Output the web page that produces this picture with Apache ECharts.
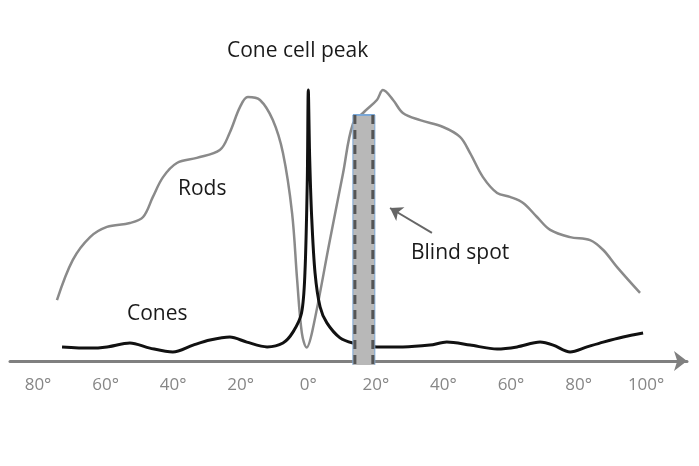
<!DOCTYPE html>
<html>
<head>
<meta charset="utf-8">
<script src="https://cdn.jsdelivr.net/npm/echarts@6/dist/echarts.min.js"></script>
<style>
html,body{margin:0;padding:0;background:#fff;}
#chart{width:699px;height:466px;}
</style>
</head>
<body>
<div id="chart"></div>
<script>
// Eccentricity (degrees, negative = left side) and relative density
const rodsX = [-74.4,-69.7,-64.6,-59.6,-52.8,-48.9,-46.0,-43.0,-38.9,-33.0,-26.2,-23.3,-20.2,-17.9,-14.3,-10.5,-7.5,-4.8,-3.3,-1.9,-0.5,1.2,6.4,10.3,13.2,16.5,20.3,22.1,25.1,28.0,33.1,39.9,44.9,47.9,51.7,55.9,59.7,63.6,67.7,71.6,77.5,83.4,87.3,91.4,98.2];
const rodsY = [20.3,33.7,41.3,44.7,46.0,48.0,54.7,61.3,66.0,67.7,70.3,76.0,84.7,88.0,87.0,80.3,69.3,49.3,27.0,9.3,4.5,10.0,40.3,62.7,79.0,83.0,87.0,90.3,87.0,82.7,80.3,78.0,74.7,69.3,61.3,56.0,54.7,52.7,48.0,43.7,41.3,40.3,37.0,31.3,22.7];
const conesX = [-72.9,-64.6,-59.6,-52.8,-46.9,-40.1,-34.1,-29.1,-23.2,-18.2,-12.2,-7.5,-4.5,-2.0,-1.0,-0.3,0.0,0.4,1.0,2.0,3.5,5.5,9.4,13.2,20.3,28.0,36.0,41.0,47.9,55.9,61.8,68.6,72.5,77.5,82.5,87.3,93.2,99.1];
const conesY = [4.7,4.3,4.7,6.0,4.3,3.0,5.3,7.0,8.0,6.3,4.7,6.0,9.7,16.0,29.3,60.0,90.3,68.0,48.0,29.3,18.0,12.7,7.7,6.0,4.7,4.7,5.3,6.3,5.3,4.0,4.7,6.3,5.3,3.0,4.7,6.3,8.0,9.3];
// Blind spot: [startDeg, endDeg, bottom, top]
const blindSpot = [13.2, 19.7, -1.3, 82.0];
// Arrow pointing at blind spot: [fromDeg, fromVal, toDeg, toVal]
const blindArrow = [36.6, 42.7, 24.2, 51.0];
const tickValues = [-80,-60,-40,-20,0,20,40,60,80,100];

const rodsData = rodsX.map((x,i)=>[x, rodsY[i]]);
const conesData = conesX.map((x,i)=>[x, conesY[i]]);

const FONT = '"Open Sans", sans-serif';
const chart = echarts.init(document.getElementById('chart'), null, {renderer:'canvas'});
chart.setOption({
  animation:false,
  backgroundColor:'#ffffff',
  grid:{left:10,right:12,top:61,bottom:105},
  xAxis:{
    type:'value', min:-88.3, max:112.1,
    splitLine:{show:false},
    axisTick:{show:false},
    axisLine:{show:true, onZero:false, symbol:['none','arrow'], symbolSize:[15,13],
      lineStyle:{color:'#808080', width:3}},
    axisLabel:{customValues:tickValues, margin:16, color:'#868686', fontSize:17, fontFamily:FONT,
      formatter:v=>Math.abs(v)+'°'}
  },
  yAxis:{type:'value', min:0, max:100, show:false, splitLine:{show:false}},
  series:[
    {type:'line', name:'Rods', data:rodsData, smooth:0.35, symbol:'none', z:2,
      lineStyle:{color:'#8a8a8a', width:2.5}},
    {type:'line', name:'Cones', data:conesData, smooth:0.3, symbol:'none', z:3,
      lineStyle:{color:'#111111', width:3}},
    {type:'custom', name:'Blind spot', z:10, clip:false,
      data:[blindSpot],
      renderItem:function(params, api){
        const p1 = api.coord([api.value(0), api.value(3)]);
        const p2 = api.coord([api.value(1), api.value(2)]);
        const x1=p1[0], y1=p1[1], x2=p2[0], y2=p2[1];
        return {type:'group', children:[
          {type:'rect', shape:{x:x1, y:y1, width:x2-x1, height:y2-y1}, style:{fill:'#b8b8b8'}},
          {type:'line', shape:{x1:x1, y1:y1, x2:x2, y2:y1}, style:{stroke:'#7aa7d6', lineWidth:2}},
          {type:'line', shape:{x1:x1, y1:y1, x2:x1, y2:y2}, style:{stroke:'#7aa7d6', lineWidth:1}},
          {type:'line', shape:{x1:x2, y1:y1, x2:x2, y2:y2}, style:{stroke:'#7aa7d6', lineWidth:1}},
          {type:'line', shape:{x1:x1+2, y1:y1, x2:x1+2, y2:y2}, style:{stroke:'#555555', lineWidth:3, lineDash:[9,6]}},
          {type:'line', shape:{x1:x2-2, y1:y1, x2:x2-2, y2:y2}, style:{stroke:'#555555', lineWidth:3, lineDash:[9,6]}}
        ]};
      },
      markLine:{silent:true, symbol:['none','arrow'], symbolSize:[12,12],
        lineStyle:{color:'#666666', width:2, type:'solid'}, label:{show:false},
        data:[[{coord:[blindArrow[0], blindArrow[1]]},{coord:[blindArrow[2], blindArrow[3]]}]]}
    }
  ],
  graphic:[
    {type:'text', left:227, top:41, style:{text:'Cone cell peak', font:'21px '+FONT, fill:'#1a1a1a'}},
    {type:'text', left:178, top:179, style:{text:'Rods', font:'21px '+FONT, fill:'#1a1a1a'}},
    {type:'text', left:127, top:304, style:{text:'Cones', font:'21px '+FONT, fill:'#1a1a1a'}},
    {type:'text', left:411, top:243, style:{text:'Blind spot', font:'21px '+FONT, fill:'#1a1a1a'}}
  ]
});
</script>
</body>
</html>
